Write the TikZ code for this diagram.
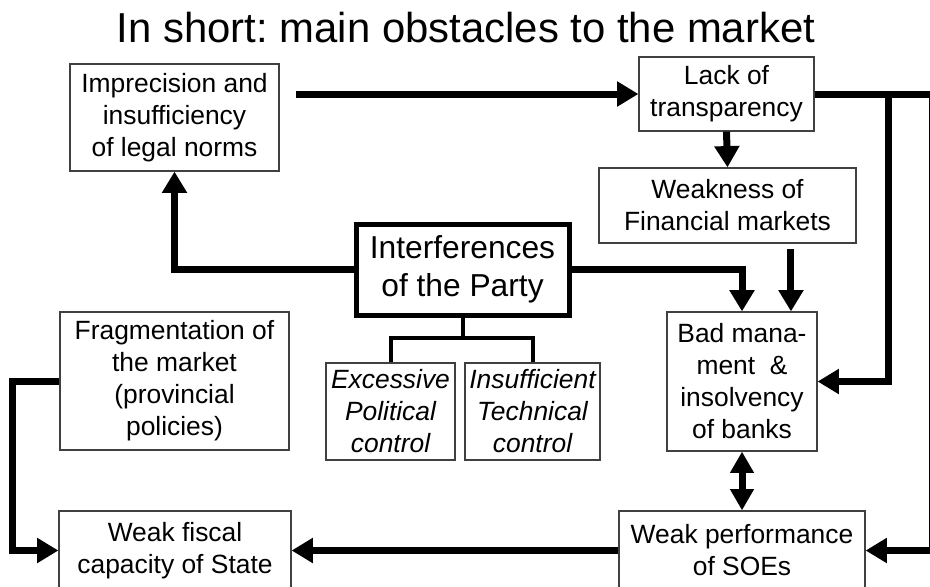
\documentclass[tikz,border=0pt]{standalone}
\usepackage{fontspec}
\setmainfont{Liberation Sans}
\usetikzlibrary{arrows.meta}
\frenchspacing

\begin{document}
\begin{tikzpicture}[x=0.75pt, y=-0.75pt,
  box/.style={draw=black!75, line width=0.9pt, align=center, inner sep=0pt, font=\fontsize{19.8}{24}\selectfont},
  arr/.style={line width=5.25pt, -{Triangle[width=18pt,length=16pt]}},
  dbl/.style={line width=5.25pt, {Triangle[width=17pt,length=16pt]}-{Triangle[width=17pt,length=16pt]}},
  tree/.style={line width=3pt}]
\useasboundingbox (0,0) rectangle (930,586);

\node[anchor=base, font=\fontsize{31.4}{36}\selectfont] (title) at (466,42) {In short: main obstacles to the market};

\node[box, minimum width=156.75pt, minimum height=80.25pt] (imp) at (174.5,117.5) {Imprecision and\\insufficiency\\of legal norms};
\node[box, minimum width=131.25pt, minimum height=55.5pt] (lack) at (726.5,94) {Lack of\\transparency};
\node[box, minimum width=192.75pt, minimum height=56.25pt] (weak) at (727.5,205.5) {Weakness of\\Financial markets};
\node[box, draw=black, line width=3.75pt, minimum width=159.75pt, minimum height=68.25pt, font=\fontsize{23.8}{28.5}\selectfont] (party) at (462.5,269.5) {Interferences\\of the Party};
\node[box, minimum width=112.5pt, minimum height=104.25pt] (bad) at (742,381.5) {Bad mana-\\ment \ \&\\insolvency\\of banks};
\node[box, minimum width=171.75pt, minimum height=103.5pt] (frag) at (174.5,381) {Fragmentation of\\the market\\(provincial\\policies)};
\node[box, minimum width=96.75pt, minimum height=72.75pt, font=\fontsize{19.8}{24}\selectfont\itshape] (exc) at (390.5,411.5) {Excessive\\Political\\control};
\node[box, minimum width=101.25pt, minimum height=72.75pt, font=\fontsize{19.8}{24}\selectfont\itshape] (ins) at (532.5,411.5) {Insufficient\\Technical\\control};
\node[box, minimum width=174pt, minimum height=59.25pt] (fisc) at (175,550.5) {Weak fiscal\\capacity of State};
\node[box, minimum width=184.5pt, minimum height=59.25pt] (perf) at (742,550.5) {Weak performance\\of SOEs};

\coordinate (jn) at (888,0);
\coordinate (rim) at (932,0);

\draw[arr] ([xshift=12pt]imp.east |- lack.west) -- (lack.west);
\draw[arr] (lack.south) -- (weak.north);
\draw[arr] (lack.east) -| (jn |- bad.east) -- (bad.east);
\draw[arr] (lack.east) -| (rim |- perf.east) -- (perf.east);
\draw[arr] (party.west) -| (imp.south);
\draw[arr] (party.east) -| (bad.north);
\draw[arr] ([xshift=47.6pt,yshift=-4pt]weak.south) -- ([xshift=47.6pt]weak.south |- bad.north);
\draw[dbl] (bad.south) -- (perf.north);
\draw[arr] (perf.west) -- (fisc.east);
\draw[arr] (frag.west) -- ++(-47,0) |- (fisc.west);

\draw[tree] (party.south) -- ++(0,20) -| (exc.north);
\draw[tree] (party.south) ++(0,20) -| (ins.north);
\end{tikzpicture}
\end{document}
